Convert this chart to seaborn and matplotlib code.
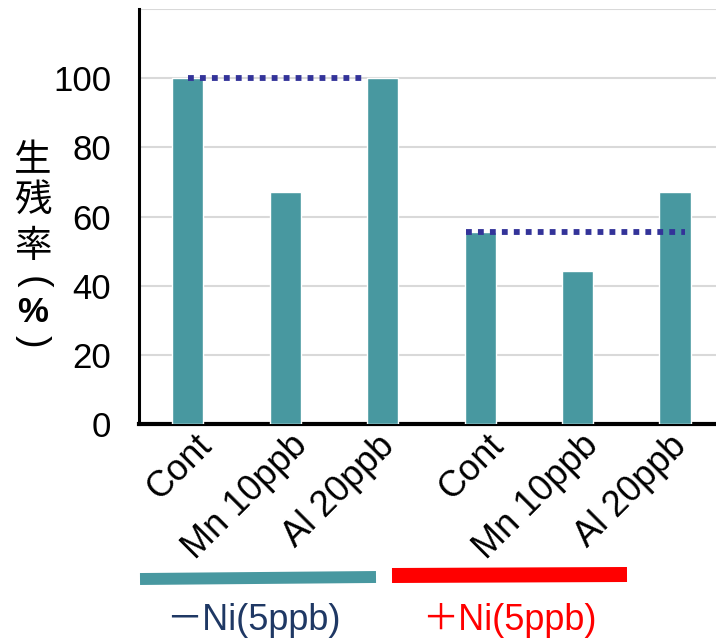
import matplotlib
matplotlib.use("Agg")
import matplotlib.pyplot as plt
import seaborn as sns
import pandas as pd

# ---- data ----
conditions = ["Cont (-Ni)", "Mn 10ppb (-Ni)", "Al 20ppb (-Ni)",
              "Cont (+Ni)", "Mn 10ppb (+Ni)", "Al 20ppb (+Ni)"]
tick_labels = ["Cont", "Mn 10ppb", "Al 20ppb", "Cont", "Mn 10ppb", "Al 20ppb"]
survival = [100, 67, 100, 55.5, 44.3, 67]
y_ticks = [0, 20, 40, 60, 80, 100]
group_labels = ["－Ni(5ppb)", "＋Ni(5ppb)"]
ylabel_chars = ["生", "残", "率", "(", "%", ")"]

TEAL = "#4898a0"
NAVY_DOT = "#333399"
NAVY_TEXT = "#1f3864"
RED = "#ff0000"

df = pd.DataFrame({"cond": conditions, "rate": survival})

sns.set_theme(style="white")
plt.rcParams["font.family"] = ["Liberation Sans", "Noto Sans CJK JP", "DejaVu Sans"]
plt.rcParams["text.color"] = "black"
plt.rcParams["xtick.color"] = "black"
plt.rcParams["ytick.color"] = "black"

fig = plt.figure(figsize=(7.16, 6.44), dpi=100)
ax = fig.add_axes([139 / 716, 1 - 424 / 644, 1 - 139 / 716, (424 - 9) / 644])

sns.barplot(data=df, x="cond", y="rate", order=conditions, color=TEAL,
            saturation=1, width=0.32, ax=ax, zorder=3)

ax.set_ylim(0, 120)
ax.set_xlim(-0.5, 5.42)
ax.set_yticks([0, 20, 40, 60, 80, 100, 120])
ax.set_yticklabels([str(v) for v in y_ticks] + [""], fontsize=25, color="black")
ax.yaxis.grid(True, color="#d9d9d9", linewidth=1.5, zorder=0)
ax.set_axisbelow(True)
ax.tick_params(axis="y", length=0, pad=20)
ax.tick_params(axis="x", length=0, pad=3)
ax.set_xticks(range(len(tick_labels)))
ax.set_xticklabels(tick_labels, fontsize=26, rotation=45, ha="right",
                   va="top", rotation_mode="anchor", color="black")
label_shift_px = [6, 4, -6, 6, 3, -6]
for lab, dx in zip(ax.get_xticklabels(), label_shift_px):
    lab.set_transform(lab.get_transform() +
                      matplotlib.transforms.ScaledTranslation(dx / 100, 0.0, fig.dpi_scale_trans))
ax.set_xlabel("")
ax.set_ylabel("")

for s in ["top", "right"]:
    ax.spines[s].set_visible(False)
ax.spines["left"].set_color("black")
ax.spines["left"].set_linewidth(2.2)
ax.spines["bottom"].set_color("black")
ax.spines["bottom"].set_linewidth(3)

# dotted reference lines at control values
ax.plot([0, 1.8], [survival[0], survival[0]], color=NAVY_DOT, linewidth=4.2,
        linestyle=(0, (1, 1.05)), dash_capstyle="butt", zorder=4)
ax.plot([2.85, 5.1], [survival[3], survival[3]], color=NAVY_DOT, linewidth=4.2,
        linestyle=(0, (1, 1.05)), dash_capstyle="butt", zorder=4)

# y label (vertical stacked characters, brackets turned for vertical writing)
char_centers = [161, 200, 247, 282, 312, 341]
for ch, yc in zip(ylabel_chars, char_centers):
    if ch == "%":
        fig.text(33 / 716, 1 - yc / 644, ch, fontsize=25, fontweight="bold",
                 ha="center", va="center", family=["Liberation Sans"])
    elif ch in "()":
        fig.text(33 / 716, 1 - yc / 644, ch, fontsize=27, rotation=-90,
                 ha="center", va="center", family=["Liberation Sans"])
    else:
        fig.text(33 / 716, 1 - yc / 644, ch, fontsize=27, ha="center", va="center",
                 family=["Noto Sans CJK JP", "DejaVu Sans"])

# group bars and labels
fig.add_artist(plt.Line2D([140 / 716, 376 / 716], [1 - 579 / 644, 1 - 577 / 644],
                          color=TEAL, linewidth=8.6, solid_capstyle="butt"))
fig.add_artist(plt.Line2D([392 / 716, 627 / 716], [1 - 575.5 / 644, 1 - 574.5 / 644],
                          color=RED, linewidth=10.8, solid_capstyle="butt"))
fig.text(253 / 716, 1 - 620 / 644, group_labels[0], fontsize=26, color=NAVY_TEXT,
         ha="center", va="center")
fig.text(509 / 716, 1 - 620 / 644, group_labels[1], fontsize=26, color=RED,
         ha="center", va="center")

fig.savefig("out.png", dpi=100)
